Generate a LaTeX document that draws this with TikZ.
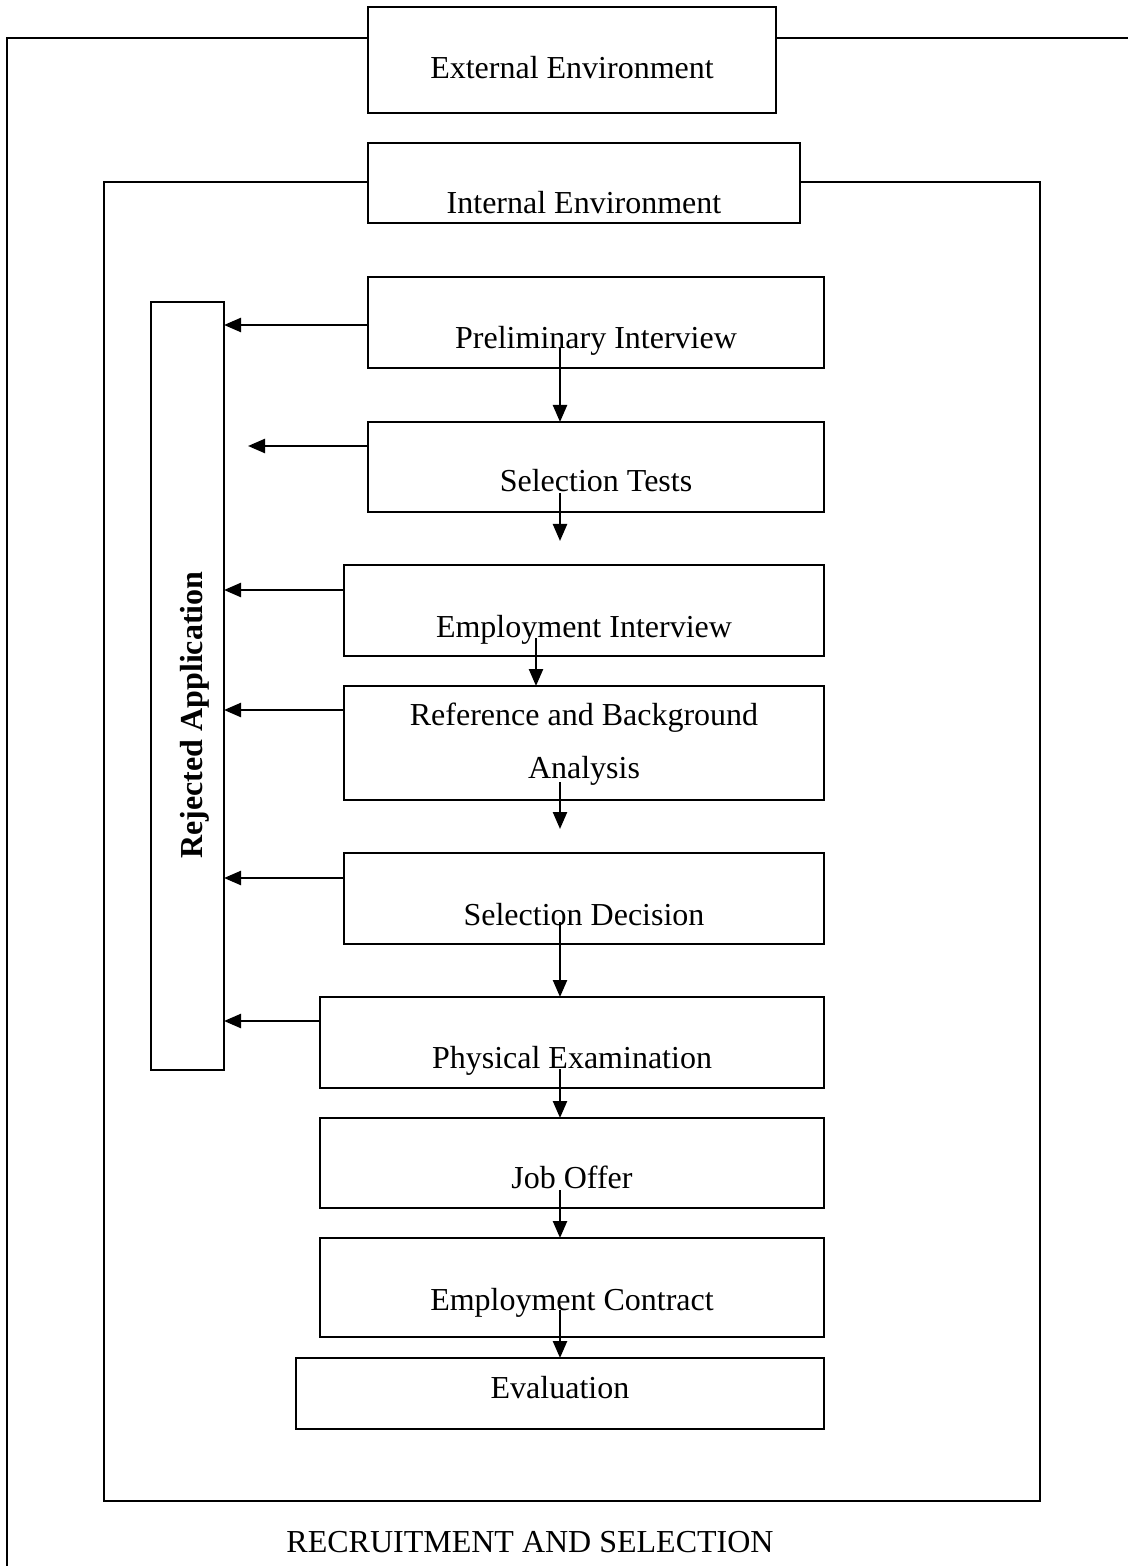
\documentclass[tikz,border=0pt]{standalone}
\usepackage{fontspec}
\setmainfont{Liberation Serif}
\usetikzlibrary{fit,arrows.meta}
\tikzset{
  box/.style={draw, line width=1.2pt, fill=white, inner sep=0pt, outer sep=0pt},
  txt/.style={anchor=base, inner sep=0pt, font=\fontsize{16}{19}\selectfont},
  frame/.style={draw, line width=1.1pt},
  arr/.style={line width=1.2pt, -{Triangle[length=8.5pt,width=7pt]}}
}
\begin{document}
\begin{tikzpicture}[x=0.5pt,y=-0.5pt]
\useasboundingbox (0,0) rectangle (1128,1566);
% outer frame (external environment)
\coordinate (of1) at (7,1566);
\coordinate (of2) at (7,38);
\coordinate (of3) at (1128,38);
\draw[frame] (of1) -- (of2) -- (of3);
% inner frame (internal environment)
\coordinate (if1) at (104,182);
\coordinate (if2) at (1040,1501);
\draw[frame] (if1) rectangle (if2);

% environment boxes
\node[box, fit={(368,7) (776,113)}] (ext) {};
\node[txt] (text) at (572,79) {External Environment};
\node[box, fit={(368,143) (800,223)}] (int) {};
\node[txt] (tint) at (584,214) {Internal Environment};

% rejected application
\node[box, fit={(151,302) (224,1070)}] (rej) {};
\node[txt, rotate=90, font=\fontsize{16}{19}\selectfont\bfseries] (trej) at (202,715) {Rejected Application};

% step boxes
\node[box, fit={(368,277) (824,368)}] (b1) {};
\node[txt] (t1) at (596,349) {Preliminary Interview};
\node[box, fit={(368,422) (824,512)}] (b2) {};
\node[txt] (t2) at (596,492) {Selection Tests};
\node[box, fit={(344,565) (824,656)}] (b3) {};
\node[txt] (t3) at (584,637) {Employment Interview};
\node[box, fit={(344,686) (824,800)}] (b4) {};
\node[txt] (t4a) at (584,725) {Reference and Background};
\node[txt] (t4b) at (584,778) {Analysis};
\node[box, fit={(344,853) (824,944)}] (b5) {};
\node[txt] (t5) at (584,925) {Selection Decision};
\node[box, fit={(320,997) (824,1088)}] (b6) {};
\node[txt] (t6) at (572,1068) {Physical Examination};
\node[box, fit={(320,1118) (824,1208)}] (b7) {};
\node[txt] (t7) at (572,1188) {Job Offer};
\node[box, fit={(320,1238) (824,1337)}] (b8) {};
\node[txt] (t8) at (572,1310) {Employment Contract};
\node[box, fit={(296,1358) (824,1429)}] (b9) {};
\node[txt] (t9) at (560,1398) {Evaluation};

\node[txt] (title) at (530,1552) {RECRUITMENT AND SELECTION};

% arrows to rejected application
\coordinate (r2) at (248,446);
\draw[arr] (b1.west |- 0,325) -- (rej.east |- 0,325);
\draw[arr] (b2.west |- r2) -- (r2);
\draw[arr] (b3.west |- 0,590) -- (rej.east |- 0,590);
\draw[arr] (b4.west |- 0,710) -- (rej.east |- 0,710);
\draw[arr] (b5.west |- 0,878) -- (rej.east |- 0,878);
\draw[arr] (b6.west |- 0,1021) -- (rej.east |- 0,1021);

% downward flow
\coordinate (d1) at (560,348);
\coordinate (d2) at (560,493);
\coordinate (d2e) at (560,541);
\coordinate (d3) at (536,638);
\coordinate (d4) at (560,782);
\coordinate (d4e) at (560,829);
\coordinate (d5) at (560,922);
\coordinate (d6) at (560,1069);
\coordinate (d7) at (560,1190);
\coordinate (d8) at (560,1310);
\draw[arr] (d1) -- (d1 |- b2.north);
\draw[arr] (d2) -- (d2e);
\draw[arr] (d3) -- (d3 |- b4.north);
\draw[arr] (d4) -- (d4e);
\draw[arr] (d5) -- (d5 |- b6.north);
\draw[arr] (d6) -- (d6 |- b7.north);
\draw[arr] (d7) -- (d7 |- b8.north);
\draw[arr] (d8) -- (d8 |- b9.north);
\end{tikzpicture}
\end{document}
